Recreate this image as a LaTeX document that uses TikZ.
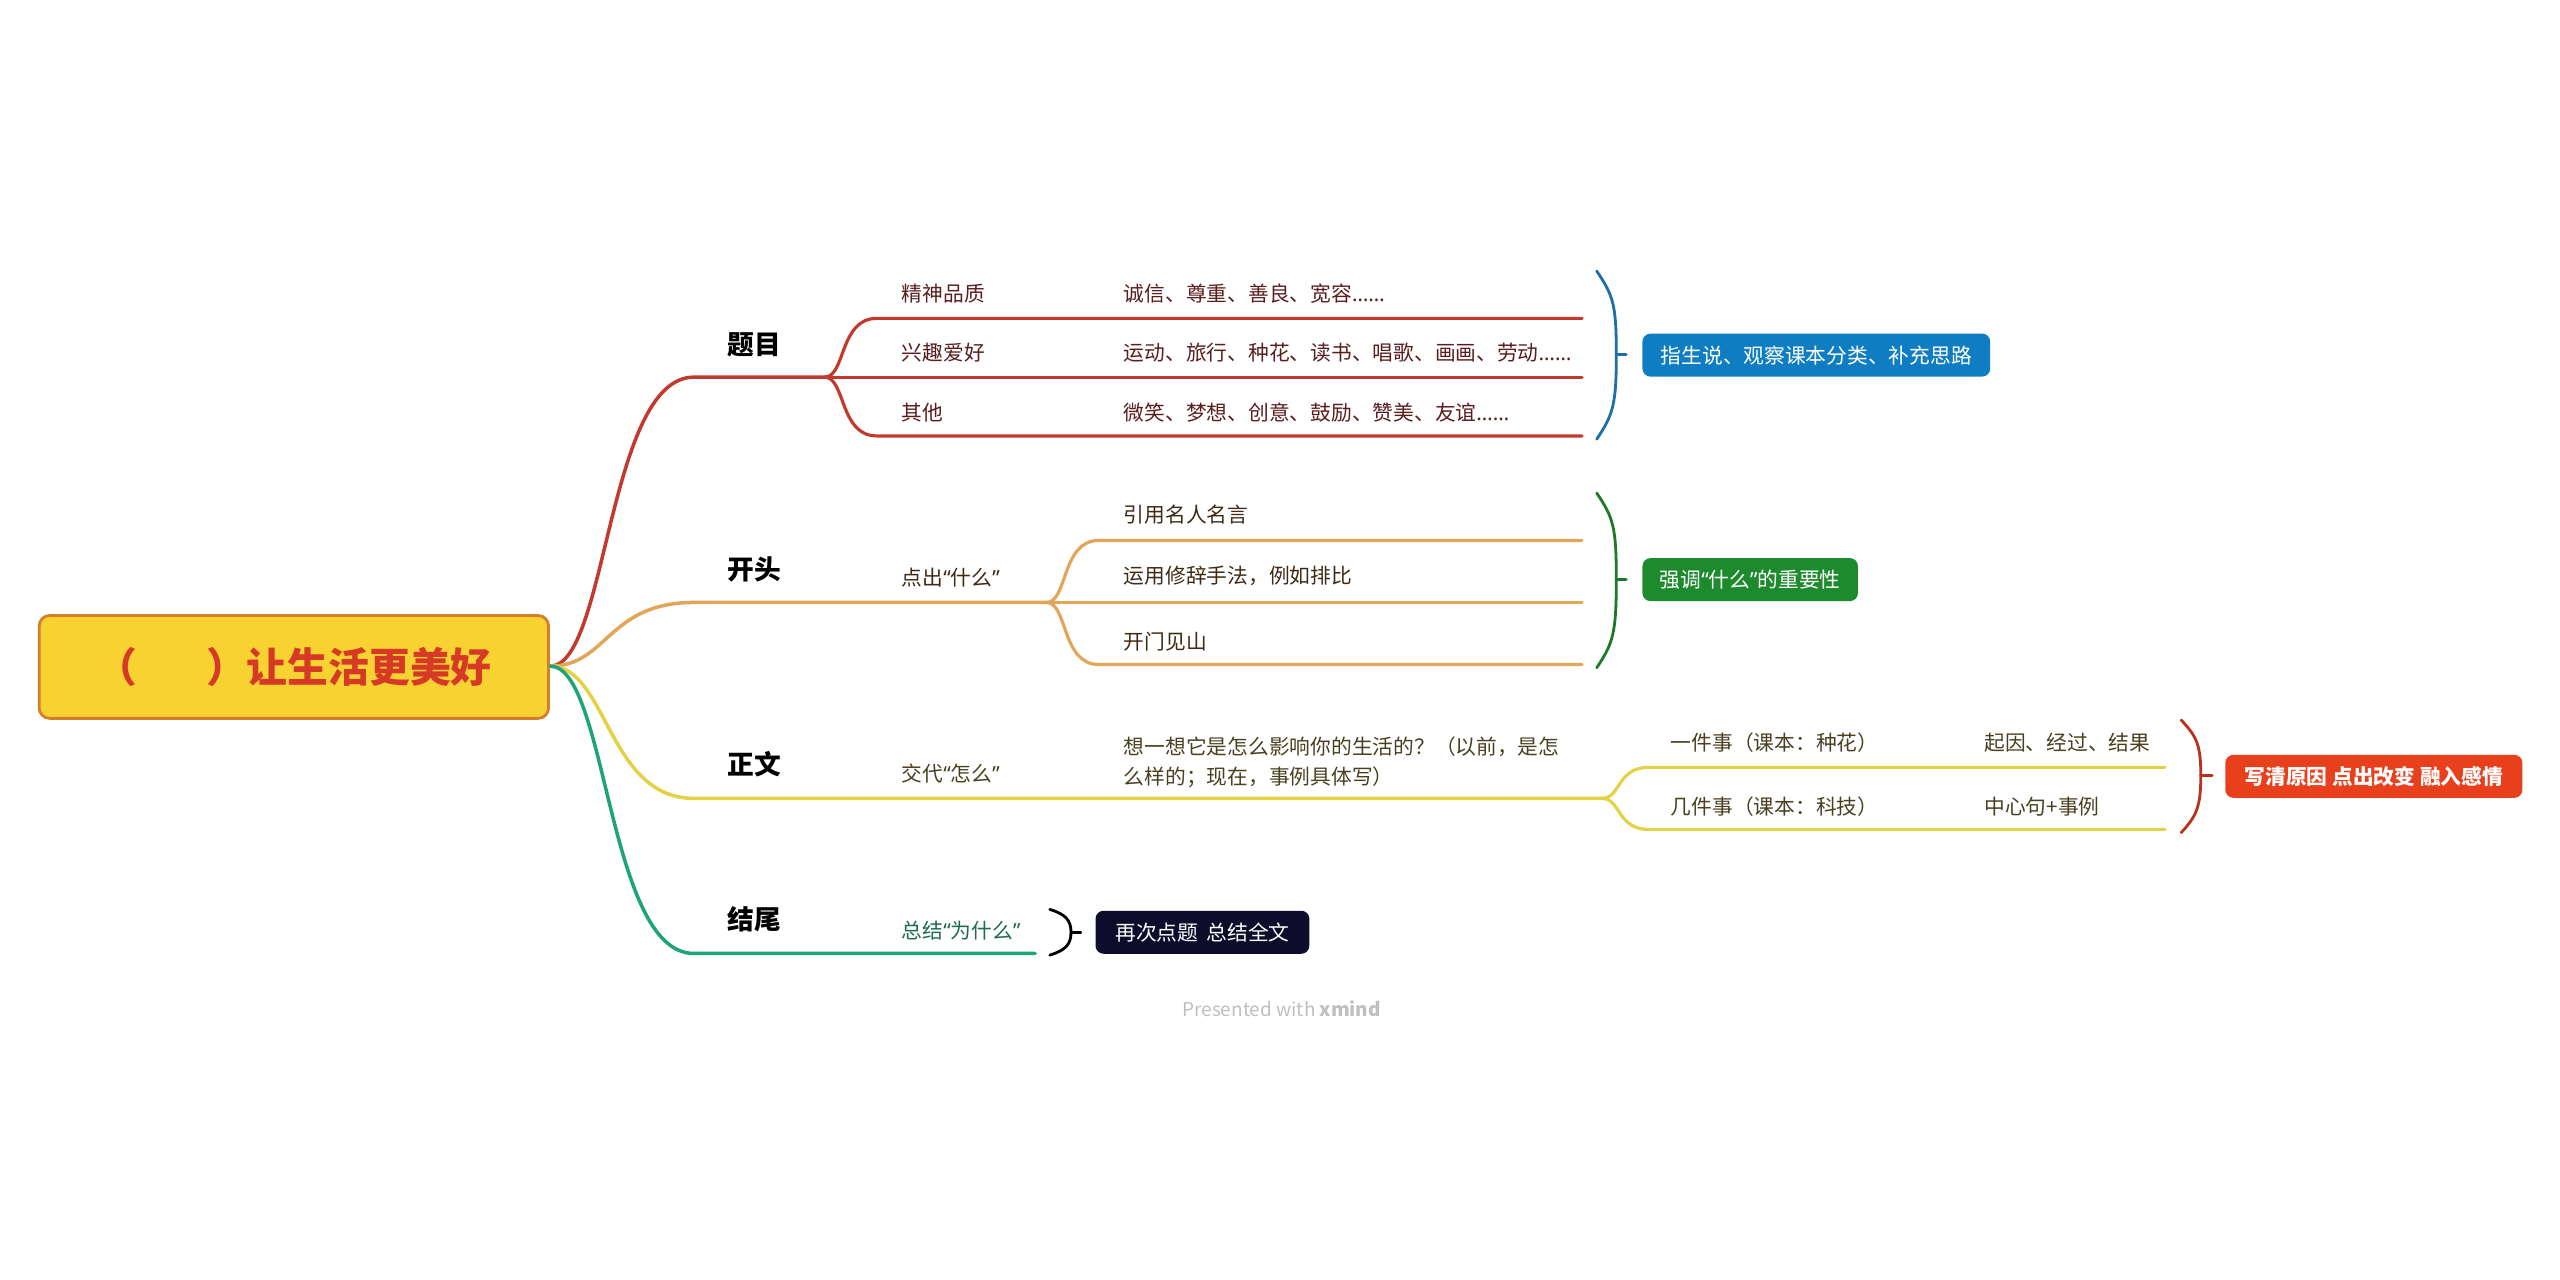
\documentclass[tikz,border=0pt]{standalone}
\usepackage{fontspec}
\setmainfont{Noto Sans CJK SC}
\newfontfamily\latq{Noto Sans}
\newcommand{\myql}{{\latq “}}
\newcommand{\myqr}{{\latq ”}}
\newcommand{\mydots}{{\latq ……}}
\definecolor{rootfill}{HTML}{F8D231}
\definecolor{rootdraw}{HTML}{D67D2A}
\definecolor{roottext}{HTML}{D63A26}
\definecolor{cred}{HTML}{C23A2E}
\definecolor{corange}{HTML}{E2A65A}
\definecolor{cyellow}{HTML}{E3D245}
\definecolor{cgreen}{HTML}{1FA47A}
\definecolor{tred}{HTML}{5A1E1E}
\definecolor{torange}{HTML}{3F2A16}
\definecolor{tyellow}{HTML}{4A4020}
\definecolor{tgreen}{HTML}{1D6B50}
\definecolor{bblue}{HTML}{1E6FA8}
\definecolor{bgreen}{HTML}{1E7A2A}
\definecolor{bred}{HTML}{B8321E}
\definecolor{fblue}{HTML}{0F7DC2}
\definecolor{fgreen}{HTML}{1E8A2E}
\definecolor{fred}{HTML}{E8401C}
\definecolor{fnavy}{HTML}{0D0D2B}
\begin{document}
\begin{tikzpicture}[x=0.016327cm,y=-0.016327cm,
  lvone/.style={font=\bfseries\fontsize{7.6}{9}\selectfont, text=black, inner sep=0},
  lvtxt/.style={font=\fontsize{5.9}{8.4}\selectfont, inner sep=0, anchor=west, align=left},
  tagbox/.style={rounded corners=2.3pt, text=white, font=\fontsize{5.9}{7}\selectfont, inner sep=0, minimum height=0.43cm},
  brline/.style={line width=1pt, line cap=round},
  subline/.style={line width=0.9pt, line cap=round},
  brack/.style={line width=0.8pt, line cap=round}]
\fill[white] (0,0) rectangle (1568,784);
\useasboundingbox (0,0) rectangle (1568,784);

% root
\node[draw=rootdraw, line width=0.8pt, fill=rootfill, rounded corners=3pt, minimum width=5.094cm, minimum height=1.029cm, inner sep=0,
  font=\bfseries\fontsize{11.6}{13}\selectfont, text=roottext] (root) at (180,408.5) {（\hspace{1.7em}）让生活更美好};
\coordinate (r0) at (337,408);

% ---------- 题目 ----------
\coordinate (b1) at (505,231);
\draw[brline, cred] (r0) .. controls (372,408) and (372,231) .. (425,231) -- (b1);
\coordinate (e11) at (969,195);
\coordinate (e12) at (969,231);
\coordinate (e13) at (969,267);
\draw[subline, cred] (b1) .. controls (518,231) and (514,195) .. (537,195) -- (e11);
\draw[subline, cred] (b1) -- (e12);
\draw[subline, cred] (b1) .. controls (518,231) and (514,267) .. (537,267) -- (e13);
\node[lvone] (t1) at (462,211) {题目};
\node[lvtxt, text=tred] (t11) at (552,180) {精神品质};
\node[lvtxt, text=tred] (t11b) at (688,180) {诚信、尊重、善良、宽容\mydots};
\node[lvtxt, text=tred] (t12) at (552,216) {兴趣爱好};
\node[lvtxt, text=tred] (t12b) at (688,216) {运动、旅行、种花、读书、唱歌、画画、劳动\mydots};
\node[lvtxt, text=tred] (t13) at (552,253) {其他};
\node[lvtxt, text=tred] (t13b) at (688,253) {微笑、梦想、创意、鼓励、赞美、友谊\mydots};
\coordinate (k1) at (996,217);
\draw[brack, bblue] (978,166) .. controls (988,181) and (990,186) .. (990,217) .. controls (990,248) and (988,254) .. (978,269);
\draw[brack, bblue] (990,217) -- (k1);
\node[tagbox, fill=fblue, minimum width=3.478cm] (s1) at (1112.5,217.5) {指生说、观察课本分类、补充思路};

% ---------- 开头 ----------
\coordinate (b2) at (641,369);
\draw[brline, corange] (r0) .. controls (372,408) and (372,369) .. (425,369) -- (b2);
\coordinate (e21) at (969,331);
\coordinate (e22) at (969,369);
\coordinate (e23) at (969,407);
\draw[subline, corange] (b2) .. controls (654,369) and (650,331) .. (673,331) -- (e21);
\draw[subline, corange] (b2) -- (e22);
\draw[subline, corange] (b2) .. controls (654,369) and (650,407) .. (673,407) -- (e23);
\node[lvone] (t2) at (462,349) {开头};
\node[lvtxt, text=torange] (t20) at (552,354) {点出\myql 什么\myqr};
\node[lvtxt, text=torange] (t21) at (688,315) {引用名人名言};
\node[lvtxt, text=torange] (t22) at (688,353) {运用修辞手法，例如排比};
\node[lvtxt, text=torange] (t23) at (688,393) {开门见山};
\coordinate (k2) at (996,355);
\draw[brack, bgreen] (978,302) .. controls (988,317) and (990,322) .. (990,355) .. controls (990,388) and (988,394) .. (978,409);
\draw[brack, bgreen] (990,355) -- (k2);
\node[tagbox, fill=fgreen, minimum width=2.155cm] (s2) at (1072,355) {强调\myql 什么\myqr 的重要性};

% ---------- 正文 ----------
\coordinate (b3) at (981,489);
\draw[brline, cyellow] (r0) .. controls (372,408) and (372,489) .. (425,489) -- (b3);
\coordinate (e31) at (1326,470);
\coordinate (e32) at (1326,508);
\draw[subline, cyellow] (b3) .. controls (993,489) and (990,470) .. (1010,470) -- (e31);
\draw[subline, cyellow] (b3) .. controls (993,489) and (990,508) .. (1010,508) -- (e32);
\node[lvone] (t3) at (462,468) {正文};
\node[lvtxt, text=tyellow] (t30) at (552,474) {交代\myql 怎么\myqr};
\node[lvtxt, text=tyellow] (t30b) at (688,467) {想一想它是怎么影响你的生活的？（以前，是怎\\么样的；现在，事例具体写）};
\node[lvtxt, text=tyellow] (t31) at (1023,455) {一件事（课本：种花）};
\node[lvtxt, text=tyellow] (t31b) at (1215,455) {起因、经过、结果};
\node[lvtxt, text=tyellow] (t32) at (1023,494) {几件事（课本：科技）};
\node[lvtxt, text=tyellow] (t32b) at (1215,494) {中心句+事例};
\coordinate (k3) at (1355,475);
\draw[brack, bred] (1336,441) .. controls (1345,451) and (1348,455) .. (1348,475) .. controls (1348,495) and (1345,500) .. (1336,510);
\draw[brack, bred] (1348,475) -- (k3);
\node[tagbox, fill=fred, minimum width=2.971cm, font=\bfseries\fontsize{5.9}{7}\selectfont] (s3) at (1454,475.5) {写清原因 点出改变 融入感情};

% ---------- 结尾 ----------
\coordinate (e4) at (634,584);
\draw[brline, cgreen] (r0) .. controls (372,408) and (372,584) .. (425,584) -- (e4);
\node[lvone] (t4) at (462,563) {结尾};
\node[lvtxt, text=tgreen] (t40) at (552,570) {总结\myql 为什么\myqr};
\coordinate (k4) at (662,571);
\draw[brack, black] (643,557) .. controls (653,560) and (656,564) .. (656,571) .. controls (656,578) and (653,582) .. (643,585);
\draw[brack, black] (656,571) -- (k4);
\node[tagbox, fill=fnavy, minimum width=2.139cm] (s4) at (736.5,571) {再次点题\hspace{0.4em}总结全文};

% footer
\node[inner sep=0, text=black!25, font=\fontsize{5.4}{6}\selectfont] (pw) at (785,618) {Presented with \textbf{xmind}};
\end{tikzpicture}
\end{document}
